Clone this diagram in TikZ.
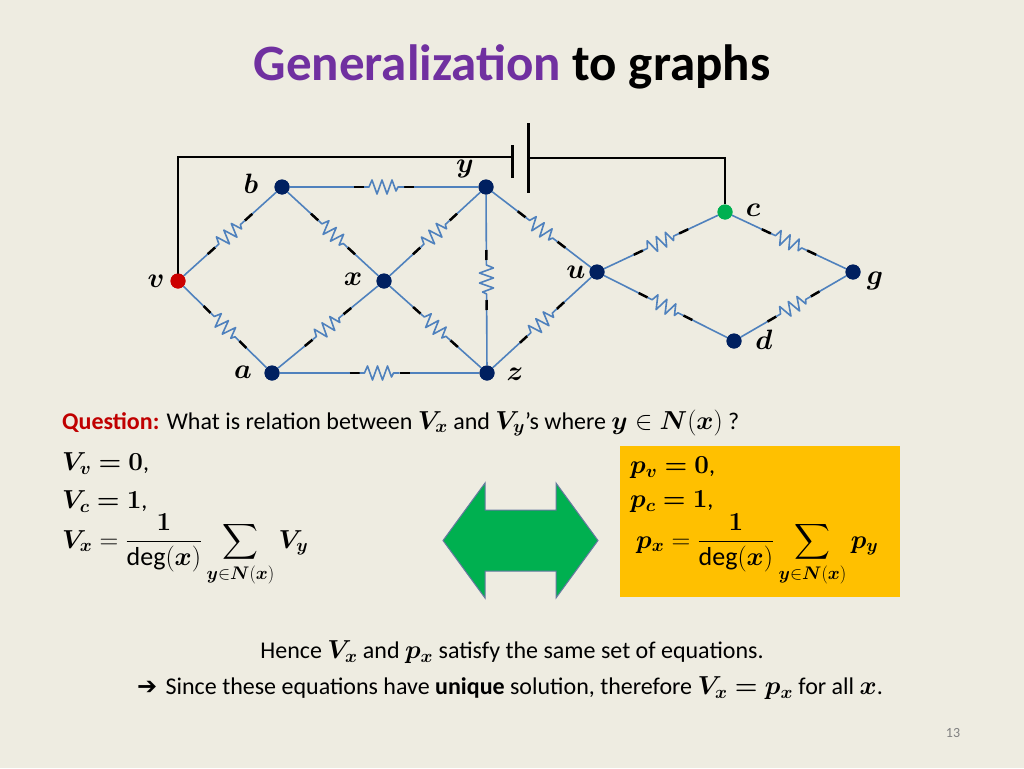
\documentclass[tikz,border=0pt]{standalone}
\usepackage{fix-cm}
\usepackage{amsmath,bm}
\usepackage{fontspec}
\setmainfont{Carlito}
\definecolor{bg}{RGB}{238,236,225}
\definecolor{eb}{RGB}{79,129,189}
\definecolor{nb}{RGB}{0,32,96}
\definecolor{tp}{RGB}{112,48,160}
\definecolor{qr}{RGB}{192,0,0}
\definecolor{box}{RGB}{255,192,0}
\definecolor{ar}{RGB}{0,176,80}
\tikzset{
 vert/.style={circle,fill=nb,inner sep=0pt,minimum size=15pt},
 lab/.style={font=\fontsize{28}{30}\selectfont},
 edge/.style={eb,line width=1.6pt},
 txt/.style={font=\fontsize{24}{28}\selectfont,anchor=west,inner sep=0pt}
}
\newcommand{\M}[1]{{\fontsize{26}{28}\selectfont$#1$}}
\newcommand{\resis}{\tikz[baseline=0pt]{\fill[bg](-24pt,-8pt) rectangle (24pt,8pt);
 \draw[black,line width=2.5pt](-30pt,0)--(-20pt,0) (20pt,0)--(30pt,0);
 \draw[eb,line width=1.6pt,line join=round](-20pt,0)--(-15pt,0)--(-12pt,7pt)--(-7pt,-7pt)--(-2pt,7pt)--(3pt,-7pt)--(8pt,7pt)--(12pt,-4pt)--(14pt,0)--(20pt,0);}}
\newcommand{\redge}[2]{\draw[edge] (#1) -- node[sloped,inner sep=0pt]{\resis} (#2);}
\begin{document}
\begin{tikzpicture}[x=1pt,y=-1pt]
\fill[bg] (0,0) rectangle (1024,768);
\useasboundingbox (0,0) rectangle (1024,768);
\node (title) at (512,67) {\fontsize{51}{55}\selectfont\bfseries\textcolor{tp}{Generalization} to graphs};
\node[vert] (b) at (282,187) {};
\node[vert] (y) at (486,187) {};
\node[vert] (x) at (384,281) {};
\node[vert] (a) at (272,373) {};
\node[vert] (z) at (487,373) {};
\node[vert] (u) at (597,272) {};
\node[vert] (g) at (853,272) {};
\node[vert] (d) at (734,341) {};
\node[circle,fill=ar,inner sep=0pt,minimum size=15pt] (c) at (725,212) {};
\node[circle,fill=red!80!black,inner sep=0pt,minimum size=15pt] (v) at (178,281) {};
\coordinate (b1) at (512,157); \coordinate (b2) at (528,158);
\draw[black,line width=2pt] (v.center) -- (178,157) -- (b1);
\draw[black,line width=2pt] (b2) -- (725,158) -- (c);
\draw[black,line width=3pt] (512,145) -- (512,178);
\draw[black,line width=3pt] (528,123) -- (528,193);
\redge{v}{b}\redge{v}{a}\redge{b}{y}\redge{b}{x}\redge{x}{y}\redge{y}{z}
\redge{y}{u}\redge{a}{x}\redge{x}{z}\redge{a}{z}\redge{z}{u}\redge{u}{c}
\redge{c}{g}\redge{u}{d}\redge{d}{g}
\foreach \n in {b,y,x,a,z,u,g,d}{\fill[nb] (\n) circle (7.5pt);}
\fill[ar] (c) circle (7.5pt);
\fill[red!80!black] (v) circle (7.5pt);
\node[lab] (lb) at (251,184) {$\bm{b}$};
\node[lab] (ly) at (465,169) {$\bm{y}$};
\node[lab] (lc) at (753,210) {$\bm{c}$};
\node[lab] (lv) at (156,281) {$\bm{v}$};
\node[lab] (lx) at (353,279) {$\bm{x}$};
\node[lab] (lu) at (576,272) {$\bm{u}$};
\node[lab] (lg) at (875,281) {$\bm{g}$};
\node[lab] (ld) at (764,340) {$\bm{d}$};
\node[lab] (la) at (243,372) {$\bm{a}$};
\node[lab] (lz) at (515,374) {$\bm{z}$};
\node[txt] (q) at (62,423) {\textcolor{qr}{\bfseries Question:} What is relation between \M{\bm{V_x}} and \M{\bm{V_y}}’s where \M{\bm{y}\in\bm{N}(\bm{x})} ?};
\node[txt] (e1) at (62,464) {\M{\bm{V_v=0}},};
\node[txt] (e2) at (62,502) {\M{\bm{V_c=1}},};
\node[txt] (e3) at (62,550) {\M{\bm{V_x}=\dfrac{\bm 1}{\mathrm{deg}(\bm x)}\displaystyle\sum_{\bm{y}\in\bm{N}(\bm{x})}\bm{V_y}}};
\node[fill=box,minimum width=280pt,minimum height=151pt,inner sep=0pt] (bx) at (760,521.5) {};
\node[txt] (f1) at (630,468) {\M{\bm{p_v=0}},};
\node[txt] (f2) at (630,502) {\M{\bm{p_c=1}},};
\node[txt] (f3) at (636,550) {\M{\bm{p_x}=\dfrac{\bm 1}{\mathrm{deg}(\bm x)}\displaystyle\sum_{\bm{y}\in\bm{N}(\bm{x})}\bm{p_y}}};
\draw[fill=ar,draw=nb!60,line width=1pt] (443,540.5) -- (485,483) -- (485,510) -- (556,510) -- (556,483) -- (598,540.5) -- (556,598) -- (556,571) -- (485,571) -- (485,598) -- cycle;
\node[txt,anchor=center] (h1) at (512,652) {Hence \M{\bm{V_x}} and \M{\bm{p_x}} satisfy the same set of equations.};
\node[txt,anchor=center] (h2) at (510,688) {\fontspec{DejaVu Sans}\bfseries ➔\ \fontspec{Carlito}\mdseries Since these equations have \textbf{unique} solution, therefore \M{\bm{V_x=p_x}} for all \M{\bm x}.};
\node[font=\fontsize{14}{16}\selectfont,text=gray] (pg) at (953,733) {13};
\end{tikzpicture}
\end{document}
